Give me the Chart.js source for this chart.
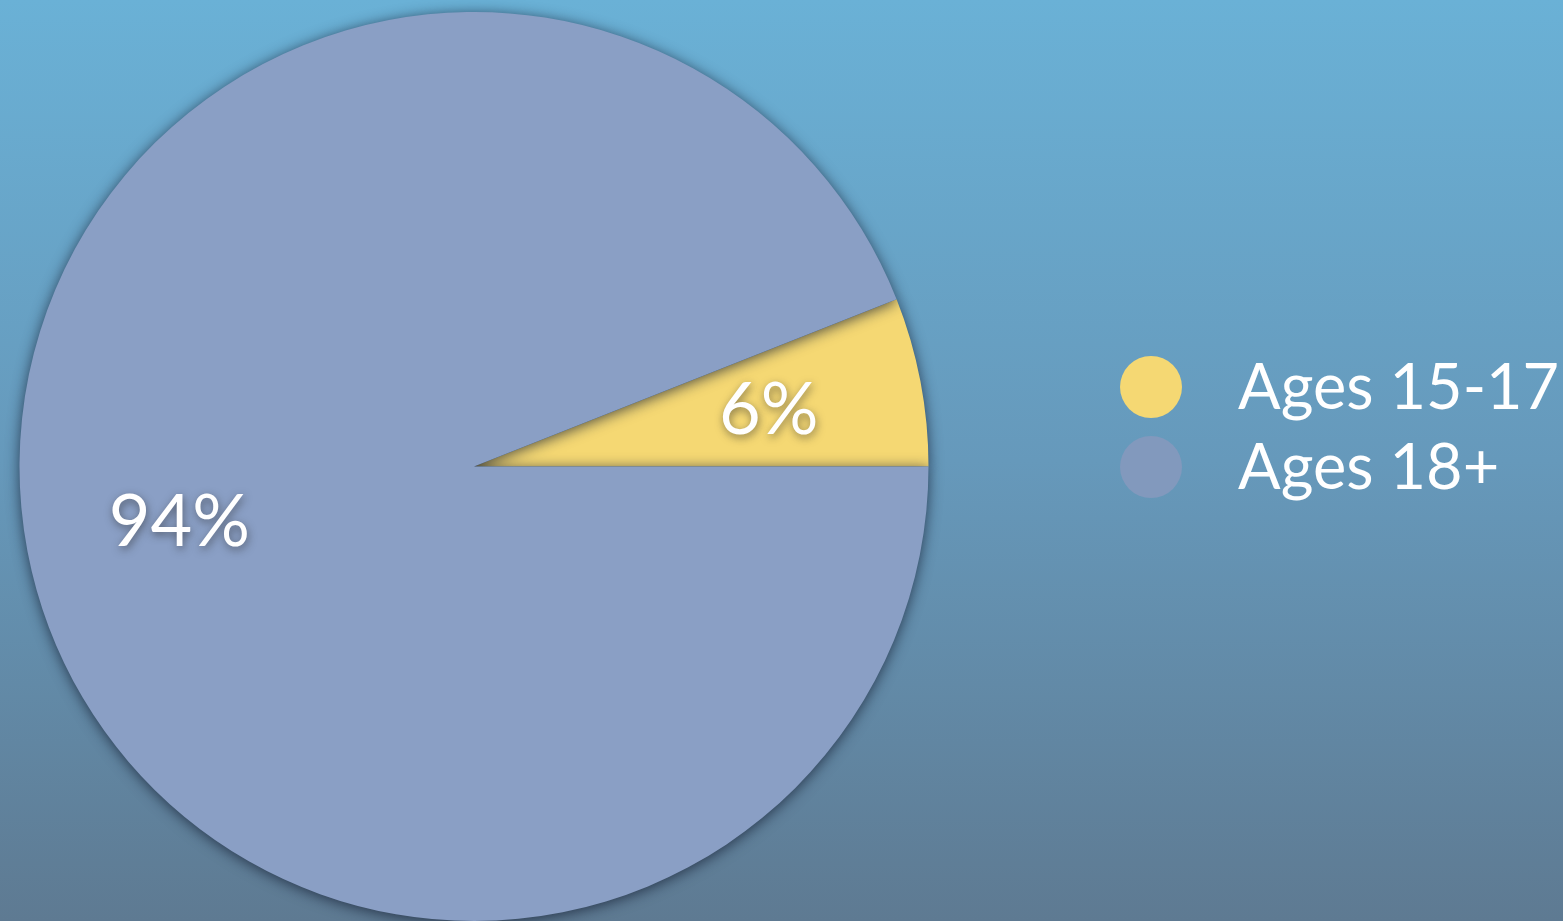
<!DOCTYPE html>
<html>
<head>
<meta charset="utf-8">
<script src="https://cdn.jsdelivr.net/npm/chart.js@4.4.0/dist/chart.umd.min.js"></script>
<style>
html,body{margin:0;padding:0;width:1563px;height:921px;overflow:hidden;
background:linear-gradient(to bottom,#6ab1d6 0%,#6699bb 50%,#5e7a92 100%);}
#wrap{position:absolute;left:0;top:0;width:1563px;height:921px;}
</style>
</head>
<body>
<div id="wrap"><canvas id="c" width="1563" height="921"></canvas></div>
<script>
const categories = ["Ages 15-17", "Ages 18+"];
const values = [6, 94];
const valueLabels = ["6%", "94%"];
const colors = ["#f5d873", "#8a9fc5"];
const legendColors = ["#f5d873", "#8299bd"];

const shadowPlugin = {
  id: 'shadow',
  beforeDatasetsDraw(chart) {
    const ctx = chart.ctx;
    ctx.save();
    ctx.shadowColor = 'rgba(20,30,50,0.75)';
    ctx.shadowBlur = 14;
    ctx.shadowOffsetX = 0;
    ctx.shadowOffsetY = 2;
  },
  afterDatasetsDraw(chart) {
    chart.ctx.restore();
    const ctx = chart.ctx;
    const meta = chart.getDatasetMeta(0);
    ctx.save();
    ctx.font = '72px Lato, "Open Sans", sans-serif';
    ctx.fillStyle = '#ffffff';
    ctx.textAlign = 'center';
    ctx.textBaseline = 'middle';
    ctx.shadowColor = 'rgba(40,40,40,0.55)';
    ctx.shadowBlur = 8;
    ctx.shadowOffsetX = 1;
    ctx.shadowOffsetY = 3;
    meta.data.forEach((arc, i) => {
      const p = arc.getProps(['x','y','startAngle','endAngle','outerRadius'], true);
      const mid = (p.startAngle + p.endAngle) / 2;
      const r = p.outerRadius * 0.66;
      ctx.fillText(valueLabels[i], p.x + Math.cos(mid) * r, p.y + Math.sin(mid) * r);
    });
    ctx.restore();
    // legend
    ctx.save();
    ctx.font = '63px Lato, "Open Sans", sans-serif';
    ctx.textBaseline = 'middle';
    ctx.textAlign = 'left';
    chart.data.labels.forEach((lab, i) => {
      const cy = 387 + i * 80;
      ctx.beginPath();
      ctx.arc(1151, cy, 31, 0, Math.PI * 2);
      ctx.fillStyle = legendColors[i];
      ctx.fill();
      ctx.fillStyle = '#ffffff';
      ctx.fillText(lab, 1238, cy + 2);
    });
    ctx.restore();
  }
};

new Chart(document.getElementById('c'), {
  type: 'pie',
  data: {
    labels: categories,
    datasets: [{
      data: values,
      backgroundColor: colors,
      borderWidth: 0,
      hoverOffset: 0
    }]
  },
  options: {
    responsive: false,
    animation: false,
    rotation: 90 - values[0] / 100 * 360,
    layout: { padding: { left: 19, top: 12, bottom: 0, right: 634 } },
    plugins: {
      legend: { display: false },
      tooltip: { enabled: false }
    }
  },
  plugins: [shadowPlugin]
});
</script>
</body>
</html>
